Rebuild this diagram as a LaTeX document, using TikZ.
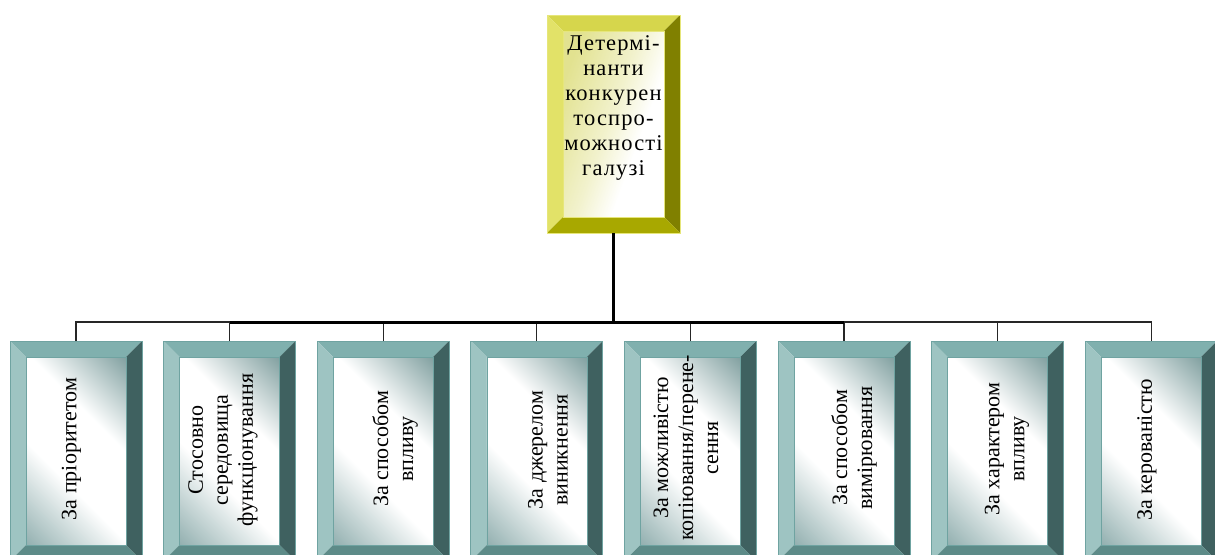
\documentclass[tikz,border=0pt]{standalone}
\usepackage{fontspec}
\setmainfont{Liberation Serif}
\newfontfamily\spacedserif[LetterSpace=5]{Liberation Serif}
\usetikzlibrary{calc}
\definecolor{ytop}{HTML}{D6D64C}
\definecolor{yleft}{HTML}{E2E268}
\definecolor{yright}{HTML}{808000}
\definecolor{ybot}{HTML}{A8A800}
\definecolor{yedge}{HTML}{E6E67A}
\definecolor{yshade}{HTML}{E2E290}
\definecolor{ttop}{HTML}{80B0AE}
\definecolor{tleft}{HTML}{9EC4C2}
\definecolor{tright}{HTML}{3F6160}
\definecolor{tbot}{HTML}{5D8B88}
\definecolor{tedge}{HTML}{6FA3A1}
\definecolor{tshadeA}{HTML}{7E9E9E}
\definecolor{tshadeB}{HTML}{90AEAE}
\pgfdeclareverticalshading{tealdiag}{100bp}{color(0bp)=(tshadeB); color(14bp)=(tshadeB); color(40bp)=(white); color(62bp)=(white); color(86bp)=(tshadeA); color(100bp)=(tshadeA)}
\pgfdeclarehorizontalshading{yellowside}{100bp}{color(0bp)=(yshade); color(25bp)=(yshade); color(48bp)=(yshade!45!white); color(62bp)=(white); color(100bp)=(white)}
\tikzset{
  yinner/.style={shading=yellowside, shading angle=-20},
  tinner/.style={shading=tealdiag, shading angle=-45},
  boxnode/.style={draw=none, inner sep=0pt, outer sep=0pt},
  thinline/.style={line width=1.3pt, draw=black!85},
  thickline/.style={line width=3pt, draw=black},
  toptext/.style={font=\spacedserif\fontsize{22.5}{25}\selectfont, align=center, inner sep=0pt},
  btext/.style={font=\fontsize{22}{25}\selectfont, align=center, inner sep=0pt, rotate=90},
}
% #1 x1, #2 y1, #3 x2, #4 y2, #5 bevel, #6 colour prefix
\newcommand{\bevbox}[6]{%
  \fill[#6top] (#1,#2) -- (#3,#2) -- (#3-#5,#2+#5) -- (#1+#5,#2+#5) -- cycle;
  \fill[#6left] (#1,#2) -- (#1+#5,#2+#5) -- (#1+#5,#4-#5) -- (#1,#4) -- cycle;
  \fill[#6right] (#3,#2) -- (#3,#4) -- (#3-#5,#4-#5) -- (#3-#5,#2+#5) -- cycle;
  \fill[#6bot] (#1,#4) -- (#1+#5,#4-#5) -- (#3-#5,#4-#5) -- (#3,#4) -- cycle;
  \shade[#6inner] (#1+#5,#2+#5) rectangle (#3-#5,#4-#5);
  \draw[#6edge, line width=0.7pt] (#1,#2) rectangle (#3,#4);
  \draw[#6edge, line width=0.5pt] (#1+#5,#2+#5) rectangle (#3-#5,#4-#5);
}
\begin{document}
\begin{tikzpicture}[x=1pt, y=-1pt]
\useasboundingbox (0,0) rectangle (1215,554);
\clip (0,0) rectangle (1215,554);
% top box
\bevbox{547}{15}{680}{233}{16}{y}
\node[boxnode, minimum width=133pt, minimum height=218pt] (top) at (613.5,124) {};
\node[toptext] (toptxt) at (613.5,108) {Детермі-\\нанти\\конкурен\\тоспро-\\можності\\галузі};
% bottom boxes
\foreach \i/\c in {1/76, 2/229.6, 3/383.2, 4/536.8, 5/690.4, 6/844, 7/997.6, 8/1151.2} {
  \bevbox{\c-66}{341}{\c+66}{561}{16}{t}
  \node[boxnode, minimum width=132pt, minimum height=220pt] (b\i) at (\c,451) {};
}
\node[btext] (t1) at (71.5,449) {За пріоритетом};
\node[btext] (t2) at (223,450) {Стосовно\\середовища\\функціонування};
\node[btext] (t3) at (395,449) {За способом\\впливу};
\node[btext] (t4) at (548,450) {За джерелом\\виникнення};
\node[btext] (t5) at (686,448) {За можливістю\\копіювання/перене-\\сення};
\node[btext] (t6) at (854,448) {За способом\\вимірювання};
\node[btext] (t7) at (1007,449) {За характером\\впливу};
\node[btext] (t8) at (1147,450) {За керованістю};
% connectors
\coordinate (bus) at (613.5,322);
\draw[thinline] (b1.north) -- (b1.north |- bus) -- (b8.north |- bus) -- (b8.north);
\foreach \i in {2,...,7} {\draw[thinline] (b\i.north) -- (b\i.north |- bus);}
\draw[thickline] (b2.north |- bus) -- (b6.north |- bus);
\draw[thickline] (top.south) -- (bus);
\end{tikzpicture}
\end{document}
